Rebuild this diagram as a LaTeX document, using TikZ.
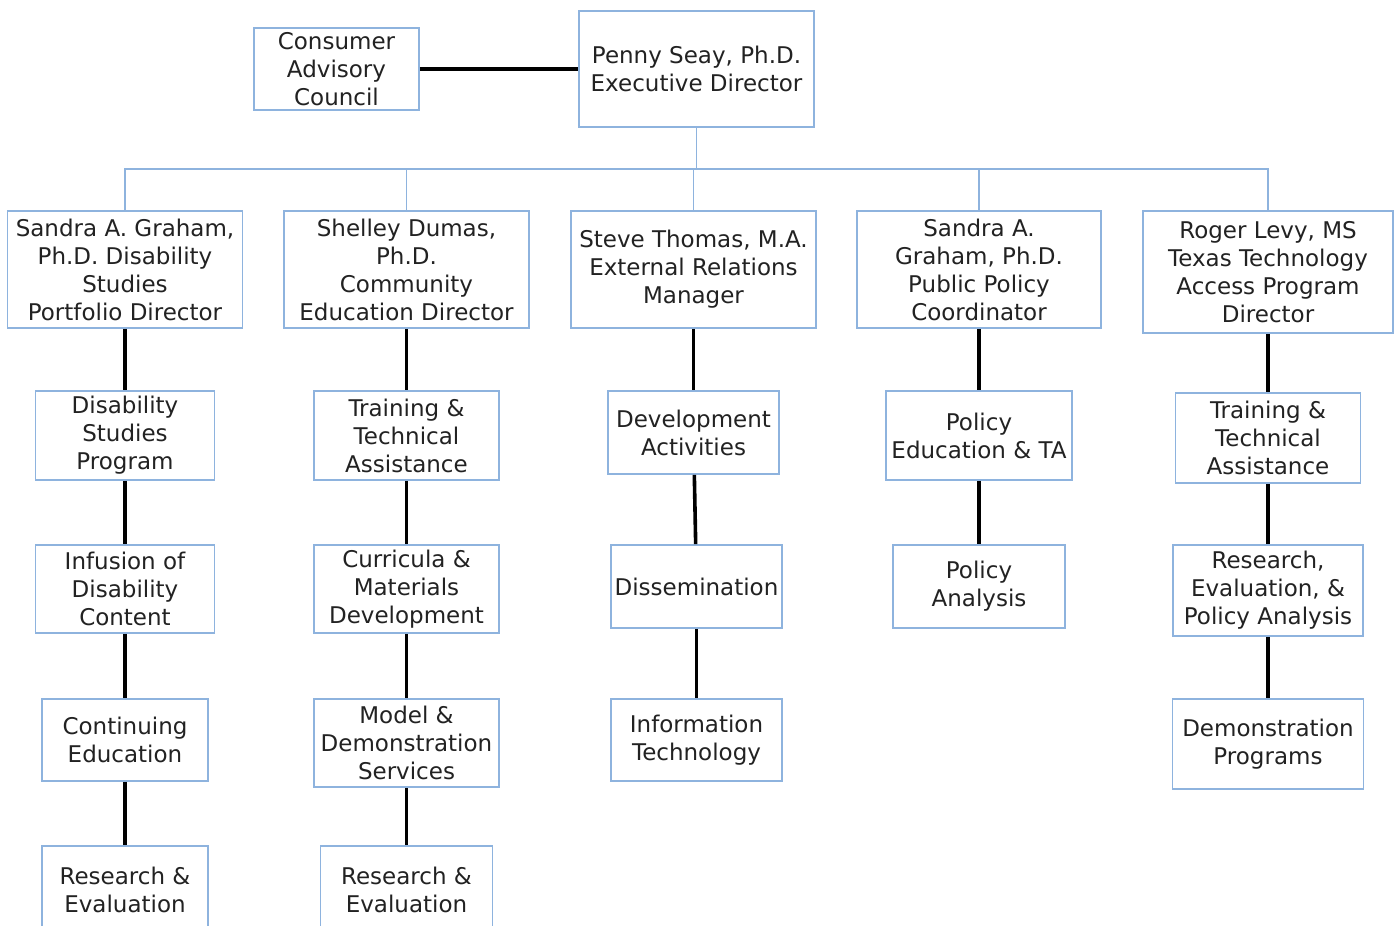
\documentclass[tikz,border=0pt]{standalone}
\usepackage{fontspec}
\setmainfont{DejaVu Sans}
\definecolor{boxblue}{RGB}{142,179,222}
\definecolor{txtgray}{RGB}{34,34,34}

\begin{document}
\begin{tikzpicture}[
    x=0.5pt, y=-0.5pt,
    font=\fontsize{11.5}{14}\selectfont,
    unit/.style={draw=boxblue, line width=0.8pt, fill=white, text=txtgray,
                 inner sep=0pt, align=center},
    box/.style 2 args={minimum width=#1*0.5pt, minimum height=#2*0.5pt},
    link/.style={line width=1.8pt},
    tree/.style={draw=boxblue, line width=0.9pt}
]
\useasboundingbox (0,0) rectangle (1398,926);

% Leitung
\node[unit, box={165}{82}] (council) at (336.5,69) {Consumer\\Advisory\\Council};
\node[unit, box={235}{116}] (penny) at (696.5,69) {Penny Seay, Ph.D.\\Executive Director};

% Direktoren
\node[unit, box={235}{117}] (graham) at (125,269.5) {Sandra A. Graham,\\Ph.D. Disability\\Studies\\Portfolio Director};
\node[unit, box={245}{117}] (dumas) at (406.5,269.5) {Shelley Dumas,\\Ph.D.\\Community\\Education Director};
\node[unit, box={245}{117}] (thomas) at (693.5,269.5) {Steve Thomas, M.A.\\External Relations\\Manager};
\node[unit, box={244}{117}] (policy) at (979,269.5) {Sandra A.\\Graham, Ph.D.\\Public Policy\\Coordinator};
\node[unit, box={250}{122}] (levy) at (1268,272) {Roger Levy, MS\\Texas Technology\\Access Program\\Director};

% Spalte 1
\node[unit, box={179}{89}] (dsp) at (125,435.5) {Disability\\Studies\\Program};
\node[unit, box={179}{88}] (infusion) at (125,589) {Infusion of\\Disability\\Content};
\node[unit, box={166}{82}] (conted) at (125,740) {Continuing\\Education};
\node[unit, box={166}{88}] (research1) at (125,890) {Research \&\\Evaluation};

% Spalte 2
\node[unit, box={185}{89}] (tta1) at (406.5,435.5) {Training \&\\Technical\\Assistance};
\node[unit, box={185}{88}] (curricula) at (406.5,589) {Curricula \&\\Materials\\Development};
\node[unit, box={185}{88}] (model) at (406.5,743) {Model \&\\Demonstration\\Services};
\node[unit, box={172}{88}] (research2) at (406.5,890) {Research \&\\Evaluation};

% Spalte 3
\node[unit, box={171}{83}] (devel) at (693.5,432.5) {Development\\Activities};
\node[unit, box={171}{83}] (dissem) at (696.5,586.5) {Dissemination};
\node[unit, box={171}{82}] (infotech) at (696.5,740) {Information\\Technology};

% Spalte 4
\node[unit, box={186}{89}] (poledu) at (979,435.5) {Policy\\Education \& TA};
\node[unit, box={172}{83}] (polana) at (979,586.5) {Policy\\Analysis};

% Spalte 5
\node[unit, box={185}{90}] (tta2) at (1268,438) {Training \&\\Technical\\Assistance};
\node[unit, box={190}{91}] (revpa) at (1268,590.5) {Research,\\Evaluation, \&\\Policy Analysis};
\node[unit, box={191}{90}] (demo) at (1268,744) {Demonstration\\Programs};

% Verbindungen
\coordinate (bus) at (696.5,169);
\draw[tree] (penny) -- (bus);
\foreach \n in {graham,dumas,thomas,policy,levy}
    \draw[tree] (\n.north) |- (bus);

\draw[link] (council.east) -- (council.east -| penny.west);
\foreach \a/\b in {graham/dsp, dsp/infusion, infusion/conted, conted/research1,
                   dumas/tta1, tta1/curricula, curricula/model, model/research2,
                   thomas/devel, devel/dissem, dissem/infotech,
                   policy/poledu, poledu/polana,
                   levy/tta2, tta2/revpa, revpa/demo}
    \draw[link] (\a) -- (\b);

\end{tikzpicture}
\end{document}
